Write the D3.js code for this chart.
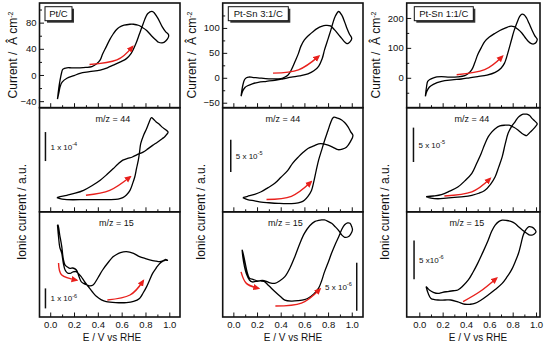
<!DOCTYPE html>
<html><head><meta charset="utf-8">
<script src="https://cdn.jsdelivr.net/npm/d3@7"></script>
<style>body{margin:0;background:#fff}svg{display:block}text{font-family:Arial,"Liberation Sans",sans-serif;fill:#111}</style>
</head><body><svg id="c" width="550" height="346"></svg>
<script>
// ---------- DATA (E / V vs RHE, value) ----------
const catalysts = ["Pt/C", "Pt-Sn 3:1/C", "Pt-Sn 1:1/C"];
const xTickLabels = [0.0, 0.2, 0.4, 0.6, 0.8, 1.0];
const xMinorTicks = [0.1, 0.3, 0.5, 0.7, 0.9];
const yTicksPtC = [-40, 0, 40, 80], yMinorPtC = [-20, 20, 60, 100];
const yTicksPtSn31 = [-50, 0, 50, 100], yMinorPtSn31 = [-25, 25, 75, 125];
const yTicksPtSn11 = [0, 100, 200], yMinorPtSn11 = [-50, 50, 150];

// Faradaic current (µA cm-2)
const ptcCurrent = [[0.061,-37],[0.075,-25],[0.083,-18],[0.1,-11],[0.14,-5],[0.2,-1],[0.25,2.5],[0.33,5],[0.42,7.6],[0.48,11],[0.53,15],[0.59,20],[0.64,25],[0.68,33],[0.72,48],[0.75,63],[0.78,78],[0.82,94],[0.86,97],[0.90,88],[0.94,74],[0.97,66],[0.995,61],
 [0.97,52],[0.94,49],[0.91,50],[0.89,53],[0.85,60],[0.81,68],[0.77,73],[0.74,76],[0.70,77.5],[0.67,77.5],[0.62,76],[0.58,73],[0.55,68],[0.53,63],[0.50,54],[0.47,43],[0.44,32],[0.42,23],[0.39,17],[0.35,12.6],[0.30,11.5],[0.25,11],[0.18,11],[0.14,11],[0.12,10],[0.105,8.6],[0.095,3],[0.083,-7.6],[0.072,-20],[0.061,-37]];
const ptSn31Current = [[0.065,-37],[0.08,-26],[0.1,-19],[0.12,-16],[0.16,-12],[0.21,-9],[0.28,-7],[0.35,-5],[0.42,-2],[0.49,1.3],[0.56,4],[0.63,8],[0.68,14],[0.72,23],[0.75,38],[0.77,56],[0.80,78],[0.82,93],[0.86,123],[0.89,133],[0.915,126],[0.94,112],[0.96,99],[0.98,88],[1.0,79],
 [0.985,72],[0.97,69],[0.955,69],[0.94,72],[0.915,79],[0.89,86],[0.855,96],[0.82,104],[0.78,105],[0.745,103],[0.71,99],[0.675,93],[0.64,86],[0.60,76],[0.57,63],[0.55,49],[0.52,32],[0.49,16],[0.46,5],[0.43,1],[0.40,-1.5],[0.30,-2],[0.22,-0.5],[0.16,1],[0.13,1.5],[0.11,0],[0.094,-4],[0.08,-15],[0.065,-37]];
const ptSn11Current = [[0.052,-62],[0.065,-45],[0.087,-31],[0.12,-22],[0.19,-12],[0.28,-7],[0.36,-4],[0.43,0],[0.50,4],[0.58,9],[0.65,18],[0.70,32],[0.73,49],[0.76,85],[0.79,127],[0.81,155],[0.835,182],[0.86,205],[0.88,213],[0.90,210],[0.92,199],[0.94,182],[0.965,160],[0.99,140],[1.01,129],
 [1.0,118],[0.98,113],[0.96,114],[0.935,121],[0.91,133],[0.88,149],[0.845,162],[0.81,171],[0.775,172],[0.735,166],[0.69,158],[0.65,149],[0.60,136],[0.56,121],[0.53,100],[0.50,77],[0.475,50],[0.45,27],[0.42,14],[0.39,7],[0.33,3],[0.26,2],[0.19,4],[0.15,3],[0.116,-1],[0.09,-6],[0.072,-12],[0.062,-30],[0.052,-62]];

// Ionic current m/z = 44 (units of 1e-5, arbitrary offset)
const ptcMz44 = [[0.056,4.9],[0.1,4.4],[0.14,4.2],[0.31,4.2],[0.5,4.2],[0.57,4.4],[0.61,4.9],[0.64,5.8],[0.67,7.4],[0.69,9.5],[0.71,12],[0.725,15],[0.74,17.8],[0.75,20.5],[0.76,23.5],[0.785,26.5],[0.81,28.7],[0.83,30.8],[0.85,32.5],[0.87,31.8],[0.89,31],[0.92,30],[0.94,29.2],[0.97,28.3],[0.99,27.5],
 [0.975,26.5],[0.96,25.8],[0.94,25.2],[0.90,24],[0.86,22.9],[0.82,21.7],[0.78,20.6],[0.73,19.7],[0.69,18.9],[0.65,18.4],[0.61,17.8],[0.57,16.5],[0.53,14.9],[0.48,13],[0.42,10.9],[0.35,9],[0.28,7.4],[0.21,6.4],[0.14,5.7],[0.07,5.1],[0.056,4.9]];
const ptSn31Mz44 = [[0.08,2.2],[0.12,1.9],[0.18,1.7],[0.235,1.5],[0.30,1.4],[0.38,1.3],[0.45,1.25],[0.52,1.3],[0.57,1.5],[0.60,1.8],[0.63,2.4],[0.66,3.3],[0.68,4.7],[0.70,6.4],[0.72,8],[0.745,9.5],[0.77,11],[0.80,12.6],[0.82,13.7],[0.845,14.6],[0.88,14.5],[0.915,14.2],[0.94,13.8],[0.97,13.1],[0.99,12.4],[1.01,11.8],
 [0.99,10.9],[0.955,10],[0.92,9.7],[0.885,9.6],[0.85,9.9],[0.80,10.3],[0.76,10.5],[0.72,10.5],[0.68,10.2],[0.63,9.8],[0.59,9.2],[0.55,8.5],[0.50,7.5],[0.46,6.4],[0.40,5.3],[0.35,4.4],[0.29,3.7],[0.235,3.1],[0.18,2.7],[0.12,2.4],[0.08,2.2]];
const ptSn11Mz44 = [[0.058,2.2],[0.1,2.0],[0.16,1.9],[0.23,2.0],[0.30,2.1],[0.38,2.2],[0.45,2.4],[0.51,2.7],[0.56,3.1],[0.61,4.0],[0.65,5.1],[0.68,6.5],[0.71,8],[0.735,9.8],[0.76,11.4],[0.79,12.4],[0.82,13.1],[0.845,13.7],[0.865,14],[0.89,14.2],[0.92,14.2],[0.945,14],[0.965,13.6],[0.99,13.2],[1.01,12.8],
 [0.995,12.4],[0.98,12.1],[0.95,11.6],[0.92,11.1],[0.90,11.2],[0.88,11.4],[0.845,11.9],[0.81,12.3],[0.77,12.6],[0.735,12.6],[0.69,12.5],[0.65,12.1],[0.62,11.6],[0.59,10.9],[0.56,9.8],[0.53,8.5],[0.49,7],[0.45,5.6],[0.39,4.5],[0.33,3.6],[0.26,3],[0.19,2.5],[0.12,2.3],[0.058,2.2]];

// Ionic current m/z = 15 (arbitrary units, scale bar = 10)
const ptcMz15 = [[0.061,46],[0.07,40],[0.08,35],[0.097,31.8],[0.11,27],[0.125,23.5],[0.145,22],[0.167,21.8],[0.19,22.5],[0.217,22.7],[0.24,21.5],[0.26,20.2],[0.29,17.5],[0.32,15.2],[0.355,12.5],[0.39,10.2],[0.43,8.6],[0.47,7.7],[0.55,7.2],[0.64,7.2],[0.70,7.8],[0.75,9.3],[0.78,12],[0.81,15.2],[0.835,18.5],[0.86,21.8],[0.89,24.5],[0.92,26.8],[0.95,28],[0.97,28.5],[0.985,28.3],
 [0.97,28.8],[0.95,28.2],[0.92,27.7],[0.89,27.9],[0.86,28.2],[0.80,29.2],[0.75,30.2],[0.70,31.8],[0.64,32.7],[0.59,32.2],[0.55,31],[0.53,30.2],[0.49,27.5],[0.44,23.5],[0.40,19.5],[0.36,16],[0.33,15.6],[0.31,16],[0.28,16.8],[0.26,17.7],[0.24,20.5],[0.22,23.5],[0.19,24.5],[0.167,24.3],[0.145,25],[0.125,26],[0.11,29],[0.097,35.2],[0.08,41],[0.065,46],[0.061,46]];
const ptSn31Mz15 = [[0.074,14],[0.08,12.5],[0.094,10.5],[0.11,9],[0.136,7.7],[0.16,7.3],[0.19,7.4],[0.23,7.5],[0.26,7.4],[0.30,6.5],[0.35,5.3],[0.40,4.2],[0.435,3.5],[0.49,3.3],[0.55,3.4],[0.60,3.6],[0.63,3.9],[0.68,4.8],[0.72,6],[0.745,7.5],[0.77,9.4],[0.80,11.3],[0.83,13.3],[0.86,15.1],[0.89,16.7],[0.915,18.2],[0.94,19.2],[0.965,19.6],[0.985,19.5],[1.0,18.8],[1.006,18.1],
 [0.99,17.2],[0.97,16.7],[0.94,16.6],[0.915,17.1],[0.89,18],[0.86,18.8],[0.83,19.5],[0.80,19.9],[0.77,20.2],[0.745,20.2],[0.72,20.1],[0.69,19.9],[0.645,19],[0.60,17.4],[0.56,15.2],[0.52,12.6],[0.48,10.3],[0.435,8.4],[0.39,7.5],[0.35,7],[0.31,7.1],[0.28,7.4],[0.245,7.6],[0.21,7.5],[0.17,7.8],[0.136,8.1],[0.115,9.5],[0.10,11.2],[0.085,13],[0.074,14]];
const ptSn11Mz15 = [[0.058,7.9],[0.075,6.2],[0.1,4.8],[0.13,4.5],[0.16,4.4],[0.22,4.4],[0.27,4.4],[0.33,3.9],[0.39,3.3],[0.435,3.3],[0.475,3.5],[0.53,4.4],[0.59,5.7],[0.65,7.1],[0.71,8.7],[0.75,10.3],[0.79,12.2],[0.82,14.2],[0.85,16.5],[0.87,18.8],[0.89,21.2],[0.915,22.7],[0.94,23.4],[0.965,23.3],[0.98,23],[1.0,22.1],
 [0.985,21.5],[0.965,21.2],[0.94,21.3],[0.92,21.7],[0.885,22.5],[0.85,23.4],[0.82,24.2],[0.79,24.7],[0.75,25],[0.71,25.1],[0.68,24.7],[0.65,23.8],[0.62,22.2],[0.59,19.9],[0.545,16.8],[0.50,13.9],[0.46,11.6],[0.42,9.6],[0.375,8.1],[0.33,7],[0.29,6.8],[0.245,6.6],[0.20,6.4],[0.16,6.1],[0.12,6.4],[0.086,7],[0.07,7.5],[0.058,7.9]];

// scan-direction arrows (start, via, end)
const ptcArrows = [[[0.33,16],[0.56,23],[0.69,43]]];
const ptSn31Arrows = [[[0.335,9.3],[0.55,16],[0.72,43]]];
const ptSn11Arrows = [[[0.32,10],[0.56,27],[0.71,71]]];
const ptcMz44Arrows = [[[0.30,5.7],[0.5,7.4],[0.67,12]]];
const ptSn31Mz44Arrows = [[[0.28,1.9],[0.49,2.4],[0.655,4.6]]];
const ptSn11Mz44Arrows = [[[0.215,2.3],[0.45,2.9],[0.605,4.8]]];
const ptcMz15Arrows = [[[0.07,27],[0.097,21],[0.22,18.5]], [[0.48,8.5],[0.67,11],[0.78,18]]];
const ptSn31Mz15Arrows = [[[0.065,9.4],[0.11,7],[0.21,6]], [[0.355,2.3],[0.575,2.9],[0.73,5.8]]];
const ptSn11Mz15Arrows = [[[0.375,4],[0.52,6.6],[0.66,10]]];

// scale bars: [E position, from, to], label mantissa, exponent
const mz44Bars = [[-0.04,17.5,27.5,"1 x 10","-4"],[-0.022,6.15,11.15,"5 x 10","-5"],[-0.05,7.25,12.25,"5 x 10","-5"]];
const mz15Bars = [[-0.04,4.3,14.3,"1 x 10","-6"],[1.042,1.3,11.3,"5 x 10","-6"],[-0.045,9.8,19.8,"5 x10","-6"]];

// ---------- LAYOUT ----------
const rows = [[3,107.7],[107.7,211.8],[211.8,317]];
const cols = [
  {x0:39.5, x1:180, xd:[-0.09,1.09], titleX:13, ionX:22, labelCx:112, box:[45,6.7,27,14],
   panels:[{data:ptcCurrent, yd:[-50,110], arrows:ptcArrows, ticks:yTicksPtC, minor:yMinorPtC},
           {data:ptcMz44, yd:[0,35.9], arrows:ptcMz44Arrows, bar:mz44Bars[0], mz:"m/z = 44", mzx:113},
           {data:ptcMz15, yd:[0,52.6], arrows:ptcMz15Arrows, bar:mz15Bars[0], mz:"m/z = 15", mzx:116.5}]},
  {x0:222.7, x1:363, xd:[-0.09,1.095], titleX:192, ionX:201, labelCx:293, box:[228.3,6.7,60,14],
   panels:[{data:ptSn31Current, yd:[-60,150], arrows:ptSn31Arrows, ticks:yTicksPtSn31, minor:yMinorPtSn31},
           {data:ptSn31Mz44, yd:[0,16.1], arrows:ptSn31Mz44Arrows, bar:mz44Bars[1], mz:"m/z = 44", mzx:283},
           {data:ptSn31Mz15, yd:[0,21.9], arrows:ptSn31Mz15Arrows, bar:mz15Bars[1], mz:"m/z = 15", mzx:285.5, barLeft:true}]},
  {x0:406.7, x1:540, xd:[-0.108,1.034], titleX:376, ionX:385, labelCx:478, box:[414.3,6.7,59,14],
   panels:[{data:ptSn11Current, yd:[-100,250], arrows:ptSn11Arrows, ticks:yTicksPtSn11, minor:yMinorPtSn11},
           {data:ptSn11Mz44, yd:[0,15.15], arrows:ptSn11Mz44Arrows, bar:mz44Bars[2], mz:"m/z = 44", mzx:472},
           {data:ptSn11Mz15, yd:[0,27.25], arrows:ptSn11Mz15Arrows, bar:mz15Bars[2], mz:"m/z = 15", mzx:467}]}
];

const svg = d3.select("#c");
const RED = "#e8201c";
svg.append("defs").append("marker").attr("id","ah").attr("viewBox","0 0 10 10")
  .attr("refX",7).attr("refY",5).attr("markerWidth",7).attr("markerHeight",7)
  .attr("markerUnits","userSpaceOnUse").attr("orient","auto")
  .append("path").attr("d","M0,0.5 L10,5 L0,9.5 Z").attr("fill",RED);

cols.forEach((c, ci) => {
  const x = d3.scaleLinear().domain(c.xd).range([c.x0, c.x1]);
  c.panels.forEach((p, ri) => {
    const [top, bot] = rows[ri];
    const y = d3.scaleLinear().domain(p.yd).range([bot, top]);
    const g = svg.append("g");
    const axMaj = d3.axisBottom(x).tickValues(xTickLabels).tickSize(-4.5).tickPadding(4)
      .tickFormat(ri === 2 ? d3.format(".1f") : () => "");
    const gx = g.append("g").attr("transform", `translate(0,${bot})`).call(axMaj);
    const gxm = g.append("g").attr("transform", `translate(0,${bot})`)
      .call(d3.axisBottom(x).tickValues(xMinorTicks).tickSize(-2.5).tickFormat(() => ""));
    [gx, gxm].forEach(a => { a.select(".domain").remove(); a.selectAll("line").attr("stroke","#111").attr("stroke-width",1); });
    gx.selectAll("text").attr("font-size", 9.5).attr("font-family","Arial, 'Liberation Sans', sans-serif").attr("fill","#111");
    if (ri === 0) {
      const gy = g.append("g").attr("transform", `translate(${c.x0},0)`)
        .call(d3.axisLeft(y).tickValues(p.ticks).tickSize(-4.5).tickPadding(3).tickFormat(d3.format("d")));
      const gym = g.append("g").attr("transform", `translate(${c.x0},0)`)
        .call(d3.axisLeft(y).tickValues(p.minor).tickSize(-2.5).tickFormat(() => ""));
      [gy, gym].forEach(a => { a.select(".domain").remove(); a.selectAll("line").attr("stroke","#111").attr("stroke-width",1); });
      gy.selectAll("text").attr("font-size", 9.5).attr("font-family","Arial, 'Liberation Sans', sans-serif").attr("fill","#111");
    }
    const line = d3.line().x(d => x(d[0])).y(d => y(d[1])).curve(d3.curveCatmullRom.alpha(0.5));
    g.append("path").attr("d", line(p.data)).attr("fill","none").attr("stroke","#000")
      .attr("stroke-width", 1.3).attr("stroke-linejoin","round");
    const aline = d3.line().x(d => x(d[0])).y(d => y(d[1])).curve(d3.curveNatural);
    p.arrows.forEach(a => {
      g.append("path").attr("d", aline(a)).attr("fill","none").attr("stroke",RED)
        .attr("stroke-width",1.4).attr("marker-end","url(#ah)");
    });
    if (p.bar) {
      const [bx, b0, b1, lab, ex] = p.bar;
      g.append("line").attr("x1", x(bx)).attr("x2", x(bx)).attr("y1", y(b0)).attr("y2", y(b1))
        .attr("stroke","#111").attr("stroke-width",1.5);
      const ym = (y(b0) + y(b1)) / 2 + 3;
      const t = g.append("text").attr("font-size", 8).attr("y", ym)
        .attr("x", p.barLeft ? x(bx) - 5 : x(bx) + 5).attr("text-anchor", p.barLeft ? "end" : "start");
      t.append("tspan").text(lab);
      t.append("tspan").attr("dy", -3.5).attr("font-size", 5.5).text(ex);
    }
    if (p.mz) {
      g.append("text").attr("x", p.mzx).attr("y", top + 14).attr("text-anchor","middle")
        .attr("font-size", 9).text(p.mz);
    }
    g.append("rect").attr("x", c.x0).attr("y", top).attr("width", c.x1 - c.x0).attr("height", bot - top)
      .attr("fill","none").attr("stroke","#111").attr("stroke-width",1.6);
  });
  const [bx, by, bw, bh] = c.box;
  svg.append("rect").attr("x", bx + 2).attr("y", by + 2).attr("width", bw).attr("height", bh).attr("fill","#333");
  svg.append("rect").attr("x", bx).attr("y", by).attr("width", bw).attr("height", bh)
    .attr("fill","#fff").attr("stroke","#111").attr("stroke-width",1);
  svg.append("text").attr("x", bx + bw / 2).attr("y", by + bh / 2 + 3.4).attr("text-anchor","middle")
    .attr("font-size", 9.5).text(catalysts[ci]);
  const t1 = svg.append("text").attr("transform", `translate(${c.titleX},55) rotate(-90)`)
    .attr("text-anchor","middle").attr("font-size", 12).attr("dy","0.35em");
  t1.append("tspan").text("Current /\u00A0 Â cm");
  t1.append("tspan").attr("dy", -4).attr("font-size", 7).text("-2");
  svg.append("text").attr("transform", `translate(${c.ionX},212) rotate(-90)`)
    .attr("text-anchor","middle").attr("font-size", 12).attr("dy","0.35em").text("Ionic current / a.u.");
  svg.append("text").attr("x", c.labelCx).attr("y", 341).attr("text-anchor","middle")
    .attr("font-size", 10).text("E / V vs RHE");
});
</script></body></html>
